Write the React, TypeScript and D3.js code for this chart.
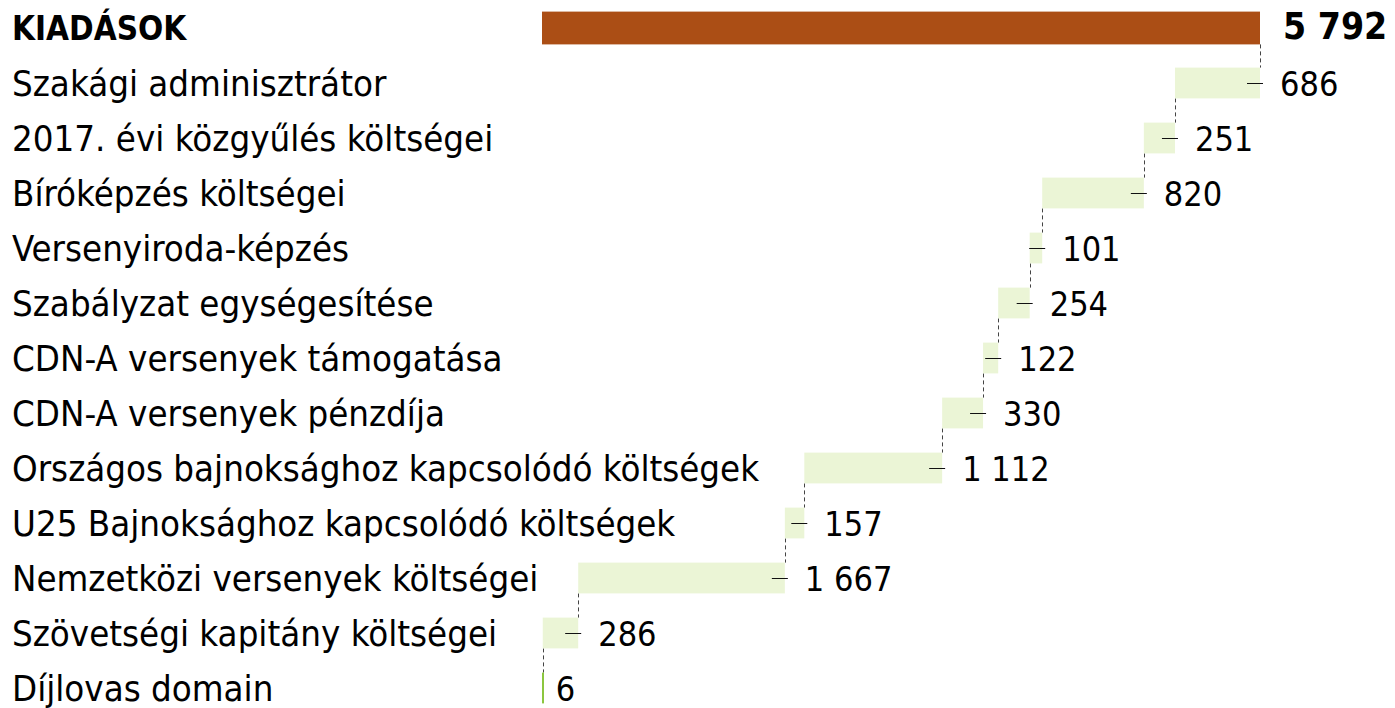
import React, {useEffect, useRef} from 'react';
import * as d3 from 'd3';

const totalName = "KIADÁSOK";
const totalValue = 5792;

const categories = [
    "Szakági adminisztrátor",
    "2017. évi közgyűlés költségei",
    "Bíróképzés költségei",
    "Versenyiroda-képzés",
    "Szabályzat egységesítése",
    "CDN-A versenyek támogatása",
    "CDN-A versenyek pénzdíja",
    "Országos bajnoksághoz kapcsolódó költségek",
    "U25 Bajnoksághoz kapcsolódó költségek",
    "Nemzetközi versenyek költségei",
    "Szövetségi kapitány költségei",
    "Díjlovas domain",
];
const values = [686, 251, 820, 101, 254, 122, 330, 1112, 157, 1667, 286, 6];

const width = 1395;
const height = 708;
const font = "'DejaVu Sans Condensed', 'DejaVu Sans', sans-serif";

const fmt = (v: number) => d3.format(",")(v).replace(/,/g, " ");

const App = () => {
    const ref = useRef<SVGSVGElement>(null);

    useEffect(() => {
        const svg = d3.select(ref.current);
        svg.selectAll("*").remove();

        const names = [totalName, ...categories];
        const y = d3.scaleBand<string>()
            .domain(names)
            .range([0.5, 715.5])
            .paddingInner(0.44)
            .paddingOuter(0.22);
        const x = d3.scaleLinear().domain([0, totalValue]).range([542, 1260]);

        // running totals, from the right edge leftwards
        let right = totalValue;
        const steps = values.map((v, i) => {
            const s = {name: categories[i], value: v, x0: right - v, x1: right};
            right -= v;
            return s;
        });

        // row labels
        svg.append("g")
            .selectAll("text")
            .data(names)
            .join("text")
            .attr("x", 12)
            .attr("y", d => y(d)! + y.bandwidth() / 2)
            .attr("dy", "0.36em")
            .style("font-family", font)
            .style("font-size", d => d === totalName ? "33px" : "36.3px")
            .style("font-weight", d => d === totalName ? "bold" : "normal")
            .attr("fill", "#000")
            .text(d => d);

        // total bar
        svg.append("rect")
            .attr("x", x(0))
            .attr("y", y(totalName)! - 1)
            .attr("width", x(totalValue) - x(0))
            .attr("height", y.bandwidth() + 2)
            .attr("fill", "#AB4E15");

        svg.append("text")
            .attr("x", x(totalValue) + 23)
            .attr("y", y(totalName)! + y.bandwidth() / 2 - 2)
            .attr("dy", "0.36em")
            .style("font-family", font)
            .style("font-size", "37px")
            .style("font-weight", "bold")
            .text(fmt(totalValue));

        // connectors
        const prevBottom = [y(totalName)! + y.bandwidth() + 1, ...steps.map(s => y(s.name)! + y.bandwidth())];
        svg.append("g")
            .selectAll("line")
            .data(steps)
            .join("line")
            .attr("x1", d => Math.round(x(d.x1)) + 0.5)
            .attr("x2", d => Math.round(x(d.x1)) + 0.5)
            .attr("y1", (d, i) => prevBottom[i])
            .attr("y2", d => y(d.name)!)
            .attr("stroke", "#444")
            .attr("stroke-width", 1)
            .attr("stroke-dasharray", "4,3");

        const g = svg.append("g")
            .selectAll("g")
            .data(steps)
            .join("g");

        g.append("rect")
            .attr("x", d => x(d.x0))
            .attr("y", d => y(d.name)!)
            .attr("width", d => Math.max(2, x(d.x1) - x(d.x0)))
            .attr("height", y.bandwidth())
            .attr("fill", d => d.value < 20 ? "#8CC63F" : "#EBF5D6");

        g.filter(d => d.value >= 20)
            .append("line")
            .attr("x1", d => x(d.x1) - 13)
            .attr("x2", d => x(d.x1) + 3)
            .attr("y1", d => Math.round(y(d.name)! + y.bandwidth() / 2) + 0.5)
            .attr("y2", d => Math.round(y(d.name)! + y.bandwidth() / 2) + 0.5)
            .attr("stroke", "#111")
            .attr("stroke-width", 1);

        g.append("text")
            .attr("x", d => x(d.x1) + (d.value < 20 ? 13 : 20))
            .attr("y", d => y(d.name)! + y.bandwidth() / 2 + 1)
            .attr("dy", "0.36em")
            .style("font-family", font)
            .style("font-size", "34px")
            .attr("fill", "#000")
            .text(d => fmt(d.value));
    }, []);

    return (
        <svg ref={ref} width={width} height={height}
             style={{position: "absolute", left: 0, top: 0, background: "#fff"}}/>
    );
};

export default App;
